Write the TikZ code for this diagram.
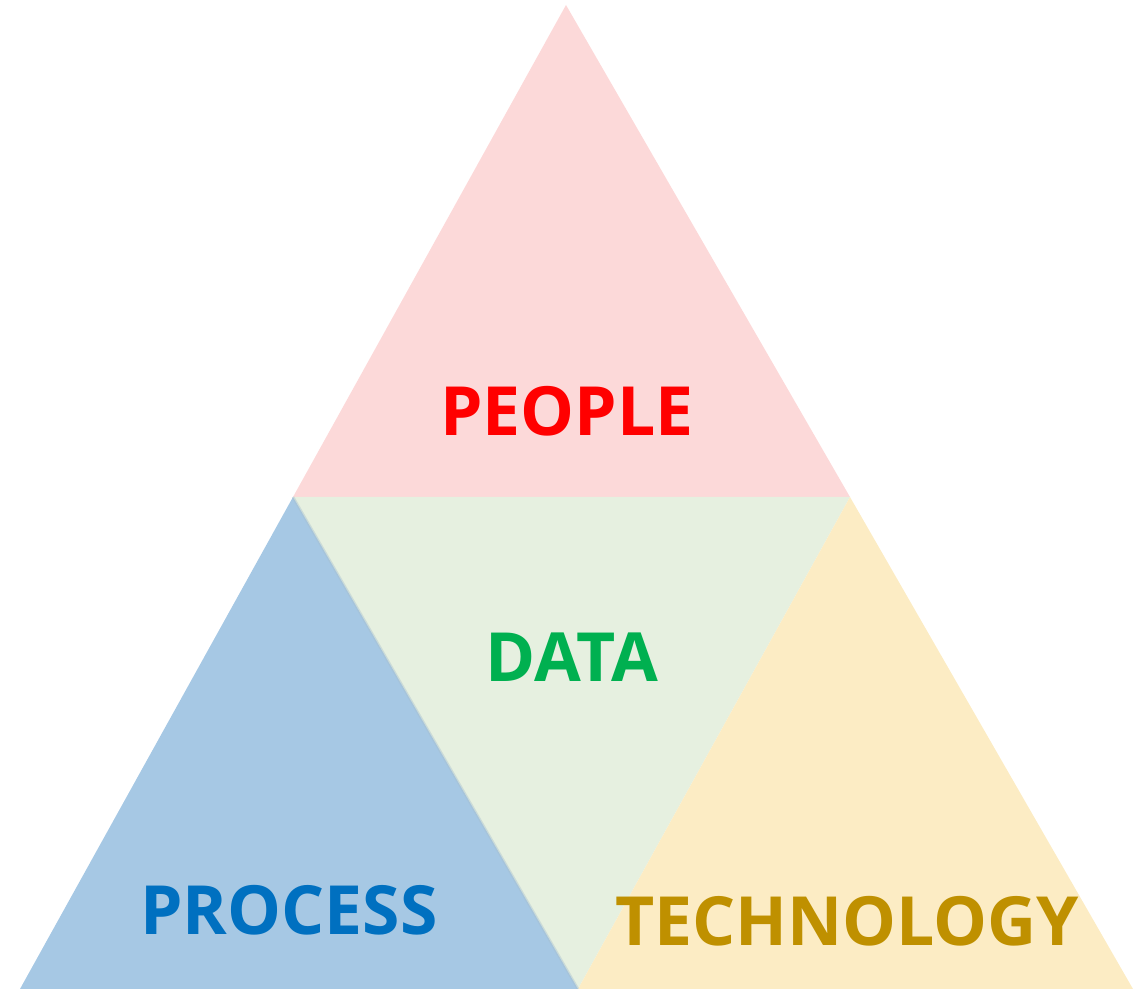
\documentclass[tikz,border=0pt]{standalone}
\usepackage{fontspec}
\setmainfont{Open Sans}
\definecolor{peoplefill}{RGB}{252,217,217}
\definecolor{processfill}{RGB}{166,200,228}
\definecolor{datafill}{RGB}{230,240,224}
\definecolor{techfill}{RGB}{252,236,196}
\definecolor{peopletext}{RGB}{255,0,0}
\definecolor{processtext}{RGB}{0,112,192}
\definecolor{datatext}{RGB}{0,176,80}
\definecolor{techtext}{RGB}{191,144,0}
\begin{document}
\begin{tikzpicture}[x=0.02cm, y=-0.02cm,
    label/.style ={font=\bfseries\fontsize{38.6}{45}\selectfont, inner sep=0pt}]
   \useasboundingbox (0,0) rectangle (1133,989);
   \coordinate (top) at (566,5);
   \coordinate (left) at (293,497);
   \coordinate (right) at (850,497);
   \coordinate (bl) at (20,989);
   \coordinate (bm) at (578,989);
   \coordinate (br) at (1133,989);
   \fill[peoplefill] (top) -- (left) -- (right) -- cycle;
   \fill[datafill] (left) -- (right) -- (bm) -- cycle;
   \fill[techfill] (right) -- (bm) -- (br) -- cycle;
   \fill[processfill] (left) -- (bl) -- (bm) -- cycle;
   \draw[processfill!70!datafill!90!black, opacity=0.4, line width=1.5pt] (left) -- (bm);
   \node[label, text=peopletext] (people) at (567,411) {PEOPLE};
   \node[label, text=datatext] (data) at (572,657) {DATA};
   \node[label, text=processtext] (process) at (289,910) {PROCESS};
   \node[label, text=techtext] (tech) at (847,921) {TECHNOLOGY};
\end{tikzpicture}
\end{document}
